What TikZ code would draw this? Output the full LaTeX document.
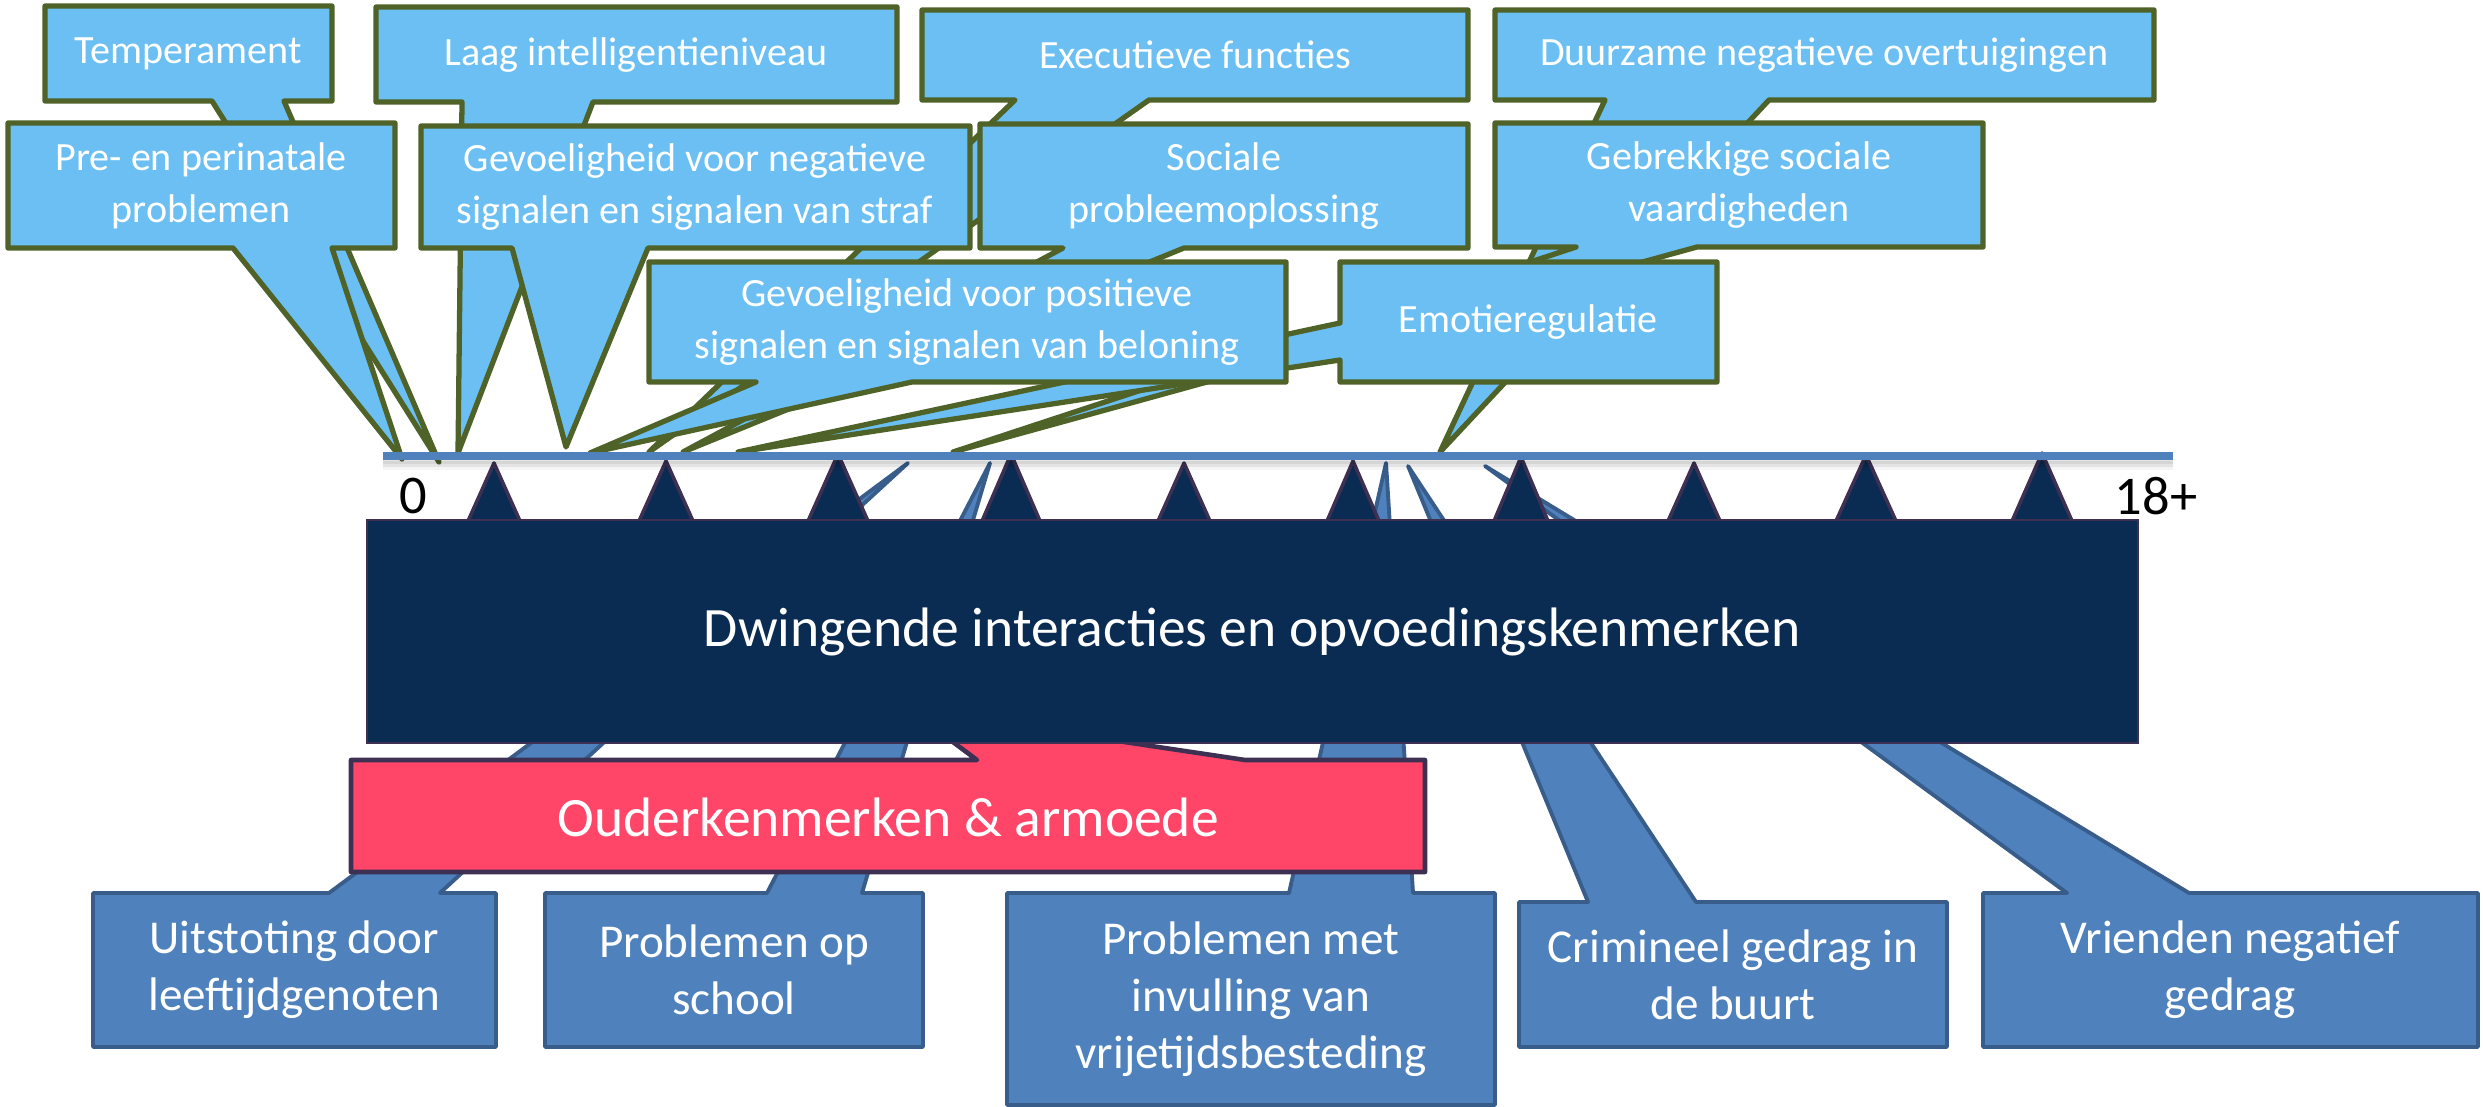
\documentclass[tikz,border=0pt]{standalone}
\usepackage{fontspec}
\setmainfont{Carlito}
\definecolor{topfill}{RGB}{107,191,243}
\definecolor{topline}{RGB}{79,98,40}
\definecolor{botfill}{RGB}{79,129,189}
\definecolor{botline}{RGB}{56,93,138}
\definecolor{navy}{RGB}{10,43,82}
\definecolor{navyline}{RGB}{61,48,82}
\definecolor{redfill}{RGB}{255,69,104}
\definecolor{tlcol}{RGB}{79,129,189}
\begin{document}
\begin{tikzpicture}[x=0.01cm,y=-0.01cm,
  topc/.style={fill=topfill,draw=topline,line width=1.5pt,line join=round},
  botc/.style={fill=botfill,draw=botline,line width=1.1pt,line join=round},
  redc/.style={fill=redfill,draw=navyline,line width=1.3pt,line join=round},
  tickc/.style={fill=navy,draw=navyline,line width=1pt,line join=round},
  toptext/.style={text=white,font=\fontsize{11.4}{14.8}\selectfont,align=center,inner sep=0pt},
  bottext/.style={text=white,font=\fontsize{13.4}{16.2}\selectfont,align=center,inner sep=0pt},
  bigtext/.style={text=white,font=\fontsize{15.8}{18}\selectfont,align=center,inner sep=0pt},
  axistext/.style={text=black,font=\fontsize{15.5}{18}\selectfont,inner sep=0pt}]
\useasboundingbox (0,0) rectangle (2483,1107);

% ---------- bottom callouts ----------
\path[botc] (93,893) -- (329,893) -- (908,463) -- (440,893) -- (496,893) -- (496,1047) -- (93,1047) -- cycle;
\node[bottext] (uit) at (294,970) {Uitstoting door\\leeftijdgenoten};
\path[botc] (545,893) -- (767,893) -- (990,463) -- (862,893) -- (923,893) -- (923,1047) -- (545,1047) -- cycle;
\node[bottext] (school) at (734,970) {Problemen op\\school};
\path[botc] (1007,893) -- (1289,893) -- (1386,463) -- (1413,893) -- (1495,893) -- (1495,1105) -- (1007,1105) -- cycle;
\node[bottext] (vrij) at (1251,999) {Problemen met\\invulling van\\vrijetijdsbesteding};
\path[botc] (1519,902) -- (1588,902) -- (1408,466) -- (1696,902) -- (1947,902) -- (1947,1047) -- (1519,1047) -- cycle;
\node[bottext] (crim) at (1733,975) {Crimineel gedrag in\\de buurt};
\path[botc] (1983,893) -- (2067,893) -- (1485,466) -- (2189,893) -- (2478,893) -- (2478,1047) -- (1983,1047) -- cycle;
\node[bottext] (vrienden) at (2230,970) {Vrienden negatief\\gedrag};

% ---------- red callout ----------
\path[redc] (351,760) -- (977,760) -- (910,710) -- (1245,760) -- (1425,760) -- (1425,872) -- (351,872) -- cycle;
\node[bigtext] (ouder) at (888,817) {Ouderkenmerken \& armoede};

% ---------- ticks ----------
\foreach \x/\ay/\w in {494/463/26,666/461/27,838/454/30,1011/454/29,1184/463/26,1353/461/26,1521/457/27,1694/463/26,1866/455/30,2042/453/30}
  \path[tickc] ({\x-\w},521) -- (\x,\ay) -- ({\x+\w},521) -- cycle;

% ---------- main box ----------
\path[fill=navy,draw=navyline,line width=0.6pt] (367,520) rectangle (2138,743);
\node[bigtext] (main) at (1252,632) {Dwingende interacties en opvoedingskenmerken};

% ---------- top callouts ----------
\path[topc] (45,6) -- (332,6) -- (332,101) -- (284,101) -- (439,462) -- (212,101) -- (45,101) -- cycle;
\node[toptext] (temp) at (188,54) {Temperament};
\path[topc] (376,7) -- (897,7) -- (897,102) -- (593,102) -- (458,453) -- (462,102) -- (376,102) -- cycle;
\node[toptext] (laag) at (636,55) {Laag intelligentieniveau};
\path[topc] (922,10) -- (1468,10) -- (1468,100) -- (1149,100) -- (649,452) -- (1015,100) -- (922,100) -- cycle;
\node[toptext] (exec) at (1195,55) {Executieve functies};
\path[topc] (1495,10) -- (2154,10) -- (2154,100) -- (1769,100) -- (1440,452) -- (1605,100) -- (1495,100) -- cycle;
\node[toptext] (duur) at (1824,55) {Duurzame negatieve overtuigingen};
\path[topc] (8,123) -- (395,123) -- (395,248) -- (332,248) -- (402,459) -- (233,248) -- (8,248) -- cycle;
\node[toptext] (pre) at (201,186) {Pre- en perinatale\\problemen};
\path[topc] (421,126) -- (970,126) -- (970,248) -- (648,248) -- (566,447) -- (512,248) -- (421,248) -- cycle;
\node[toptext] (gevneg) at (695,187) {Gevoeligheid voor negatieve\\signalen en signalen van straf};
\path[topc] (980,124) -- (1468,124) -- (1468,248) -- (1184,248) -- (683,452) -- (1063,248) -- (980,248) -- cycle;
\node[toptext] (soc) at (1224,186) {Sociale\\probleemoplossing};
\path[topc] (1495,123) -- (1983,123) -- (1983,247) -- (1697,247) -- (953,452) -- (1576,247) -- (1495,247) -- cycle;
\node[toptext] (gebr) at (1739,185) {Gebrekkige sociale\\vaardigheden};
\path[topc] (1340,262) -- (1717,262) -- (1717,382) -- (1340,382) -- (1340,360) -- (738,452) -- (1340,323) -- cycle;
\node[toptext] (emo) at (1528,322) {Emotieregulatie};
\path[topc] (649,262) -- (1286,262) -- (1286,382) -- (912,382) -- (590,453) -- (756,382) -- (649,382) -- cycle;
\node[toptext] (gevpos) at (967,322) {Gevoeligheid voor positieve\\signalen en signalen van beloning};

% ---------- timeline ----------
\coordinate (tl0) at (383,456);
\coordinate (tl1) at (2173,456);
\foreach \s/\o in {0.05/0.10,0.08/0.07,0.11/0.04}
  \draw[line width=1.5pt,black,opacity=\o] ([yshift=-\s cm]tl0) -- ([yshift=-\s cm]tl1);
\draw[line width=2pt,tlcol] (tl0) -- (tl1);
\node[axistext] (zero) at (413,496) {0};
\node[axistext] (eighteen) at (2156,496) {18+};
\end{tikzpicture}
\end{document}
